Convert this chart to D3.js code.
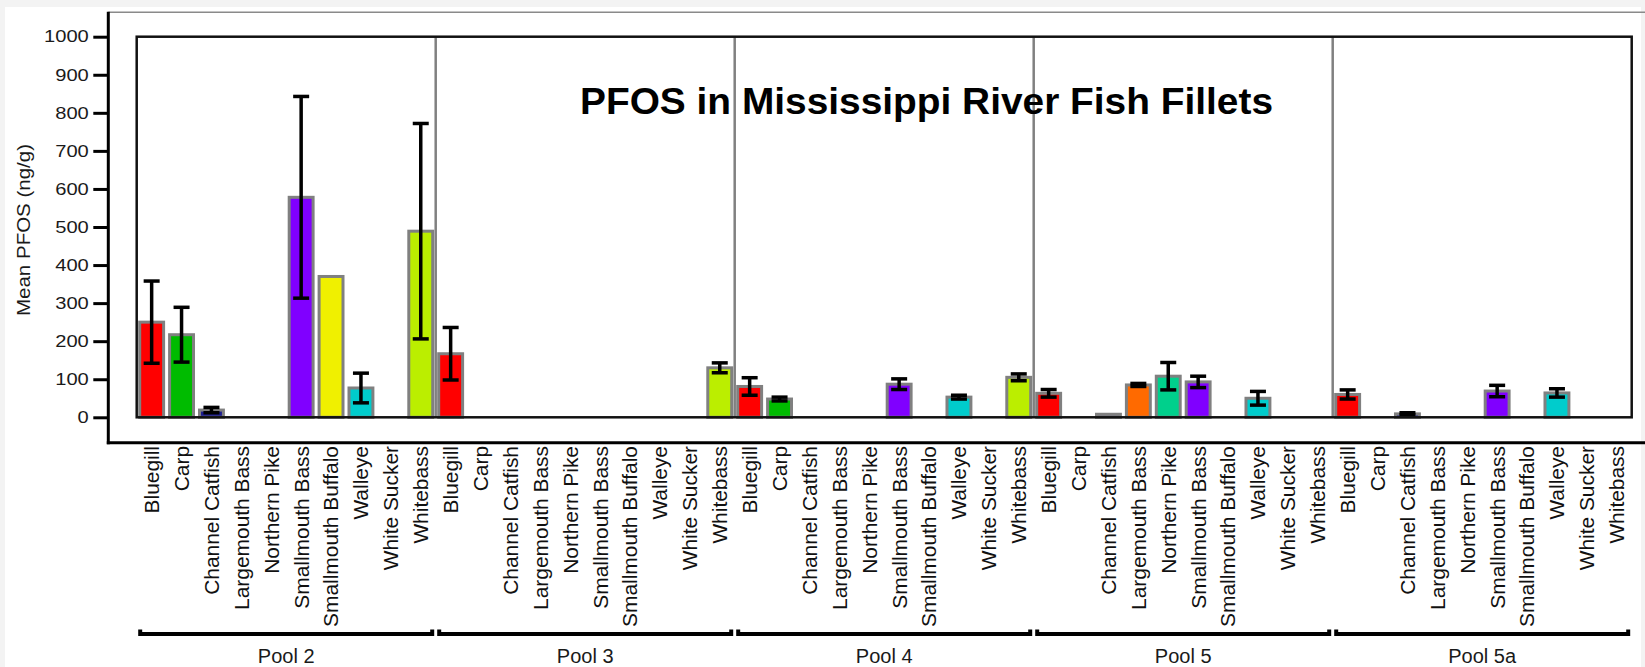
<!DOCTYPE html>
<html>
<head>
<meta charset="utf-8">
<script src="https://cdn.jsdelivr.net/npm/d3@7"></script>
<style>
  html, body { margin: 0; padding: 0; background: #f3f3f3; }
  svg { display: block; }
  text { font-family: "Liberation Sans", Arial, sans-serif; }
</style>
</head>
<body>
<svg id="chart" width="1645" height="667"></svg>
<script>
// ---------------- data ----------------
const pools = ["Pool 2", "Pool 3", "Pool 4", "Pool 5", "Pool 5a"];
const species = ["Bluegill", "Carp", "Channel Catfish", "Largemouth Bass", "Northern Pike",
                 "Smallmouth Bass", "Smallmouth Buffalo", "Walleye", "White Sucker", "Whitebass"];
const speciesColors = ["#ff0000", "#00bb00", "#1c1c8e", "#ff6a00", "#00d08c",
                       "#8000ff", "#f0f000", "#00cccc", "#999999", "#bbee00"];
const yTicks = [0, 100, 200, 300, 400, 500, 600, 700, 800, 900, 1000];
const chartTitle = "PFOS in Mississippi River Fish Fillets";
const yTitle = "Mean PFOS (ng/g)";

// mean PFOS (ng/g) per pool, in species order (null = no sample)
const meanPool2  = [250, 217, 19, null, null, 578, 370, 77, null, 489];
const meanPool3  = [167, null, null, null, null, null, null, null, null, 130];
const meanPool4  = [81, 48, null, null, null, 87, null, 53, null, 105];
const meanPool5  = [63, null, 8, 85, 108, 93, null, 50, null, null];
const meanPool5a = [60, null, 9, null, null, 69, null, 64, null, null];
// error (+/-) per pool
const errPool2  = [108, 72, 7, null, null, 265, null, 39, null, 283];
const errPool3  = [69, null, null, null, null, null, null, null, null, 13];
const errPool4  = [23, 5, null, null, null, 14, null, 5, null, 9];
const errPool5  = [10, null, null, 4, 36, 15, null, 18, null, null];
const errPool5a = [12, null, 3, null, null, 15, null, 11, null, null];

const means = [meanPool2, meanPool3, meanPool4, meanPool5, meanPool5a];
const errs  = [errPool2, errPool3, errPool4, errPool5, errPool5a];

// ---------------- layout ----------------
const svg = d3.select("#chart");
const W = 1645, H = 667;
const frame = { left: 136.7, right: 1631.7, top: 36.7, bottom: 417.3 };
const axisX = 108.3, axisBottomY = 442.7, outerTopY = 12.3;

svg.append("rect").attr("x", 5).attr("y", 7).attr("width", W - 9).attr("height", H - 7)
  .attr("fill", "#ffffff");

const y = d3.scaleLinear().domain([0, 1000]).range([frame.bottom, frame.top]);
const xPool = d3.scaleBand().domain(pools).range([frame.left, frame.right]).padding(0);
const xSp = d3.scaleBand().domain(species).range([0, xPool.bandwidth()])
  .paddingInner(0.1).paddingOuter(0.05);
const color = d3.scaleOrdinal().domain(species).range(speciesColors);

function stretch(sel, factor) {
  sel.each(function () {
    const n = this.getComputedTextLength();
    d3.select(this).attr("textLength", n * factor).attr("lengthAdjust", "spacingAndGlyphs");
  });
}

// outer top line
svg.append("line").attr("x1", axisX).attr("x2", W).attr("y1", outerTopY).attr("y2", outerTopY)
  .attr("stroke", "#8a8a8a").attr("stroke-width", 1.5);

// y axis
const yAxis = svg.append("g").attr("transform", `translate(${axisX},0)`)
  .call(d3.axisLeft(y).tickValues(yTicks).tickFormat(d3.format("d"))
    .tickSize(15).tickPadding(4.5).tickSizeOuter(0));
yAxis.select(".domain").remove();
yAxis.selectAll(".tick line").attr("stroke", "#000").attr("stroke-width", 3);
yAxis.selectAll(".tick text").attr("fill", "#1a1a1a").style("font-size", "16.5px")
  .style("font-family", "'Liberation Sans', Arial, sans-serif");
stretch(yAxis.selectAll(".tick text"), 1.22);

// outer axis lines
svg.append("line").attr("x1", axisX).attr("x2", axisX).attr("y1", outerTopY - 0.5).attr("y2", axisBottomY + 1.5)
  .attr("stroke", "#000").attr("stroke-width", 3);
svg.append("line").attr("x1", axisX - 1.5).attr("x2", W).attr("y1", axisBottomY).attr("y2", axisBottomY)
  .attr("stroke", "#000").attr("stroke-width", 3);

// y title
const yt = svg.append("text").attr("transform", "translate(30,230) rotate(-90)")
  .attr("text-anchor", "middle").attr("fill", "#1a1a1a").style("font-size", "19px").text(yTitle);
yt.attr("textLength", 172).attr("lengthAdjust", "spacingAndGlyphs");

// pool separators
svg.append("g").selectAll("line").data(pools.slice(1)).join("line")
  .attr("x1", d => xPool(d)).attr("x2", d => xPool(d))
  .attr("y1", frame.top).attr("y2", frame.bottom)
  .attr("stroke", "#808080").attr("stroke-width", 2.5);

// bars
const rows = [];
pools.forEach((p, pi) => species.forEach((s, si) => {
  if (means[pi][si] != null) rows.push({ pool: p, sp: s, v: means[pi][si], e: errs[pi][si] });
}));

const barW = xSp.bandwidth() - 3;
svg.append("g").selectAll("rect").data(rows).join("rect")
  .attr("x", d => xPool(d.pool) + xSp(d.sp) + 1.5)
  .attr("width", barW)
  .attr("y", d => y(d.v))
  .attr("height", d => y(0) - y(d.v))
  .attr("fill", d => color(d.sp))
  .attr("stroke", "#808080").attr("stroke-width", 3);

// error bars
const eb = svg.append("g").attr("stroke", "#000").attr("stroke-width", 3.5);
rows.filter(d => d.e != null).forEach(d => {
  const cx = xPool(d.pool) + xSp(d.sp) + xSp.bandwidth() / 2;
  const hi = y(d.v + d.e), lo = y(Math.max(0, d.v - d.e));
  eb.append("line").attr("x1", cx).attr("x2", cx).attr("y1", hi).attr("y2", lo);
  eb.append("line").attr("x1", cx - 8).attr("x2", cx + 8).attr("y1", hi).attr("y2", hi);
  eb.append("line").attr("x1", cx - 8).attr("x2", cx + 8).attr("y1", lo).attr("y2", lo);
});

// inner frame
svg.append("rect").attr("x", frame.left).attr("y", frame.top)
  .attr("width", frame.right - frame.left).attr("height", frame.bottom - frame.top)
  .attr("fill", "none").attr("stroke", "#111").attr("stroke-width", 2.5);

// title
const title = svg.append("text").attr("x", 926.5).attr("y", 113.5).attr("text-anchor", "middle")
  .attr("fill", "#000").style("font-size", "37px").style("font-weight", "bold").text(chartTitle);
title.attr("textLength", 693).attr("lengthAdjust", "spacingAndGlyphs");

// category labels (rotated)
svg.append("clipPath").attr("id", "lblclip").append("rect")
  .attr("x", 0).attr("y", 445).attr("width", W).attr("height", H - 445);
const lbl = svg.append("g").attr("clip-path", "url(#lblclip)");
pools.forEach(p => {
  lbl.append("g").selectAll("text").data(species).join("text")
    .attr("transform", s => `translate(${xPool(p) + xSp(s) + xSp.bandwidth() / 2},446) rotate(-90)`)
    .attr("text-anchor", "end").attr("dy", "0.36em")
    .attr("fill", "#111").style("font-size", "20.5px").text(s => s)
    .each(function () {
      const n = this.getComputedTextLength();
      d3.select(this).attr("textLength", n * 1.02).attr("lengthAdjust", "spacingAndGlyphs");
    });
});

// pool brackets & labels
const br = svg.append("g");
pools.forEach(p => {
  const x0 = xPool(p) + 3.5, x1 = xPool(p) + xPool.bandwidth() - 3.5;
  br.append("path").attr("d", `M${x0},629.5V634H${x1}V629.5`)
    .attr("fill", "none").attr("stroke", "#000").attr("stroke-width", 4);
  br.append("text").attr("x", xPool(p) + xPool.bandwidth() / 2).attr("y", 663)
    .attr("text-anchor", "middle").attr("fill", "#1a1a1a").style("font-size", "20px").text(p);
});
</script>
</body>
</html>
